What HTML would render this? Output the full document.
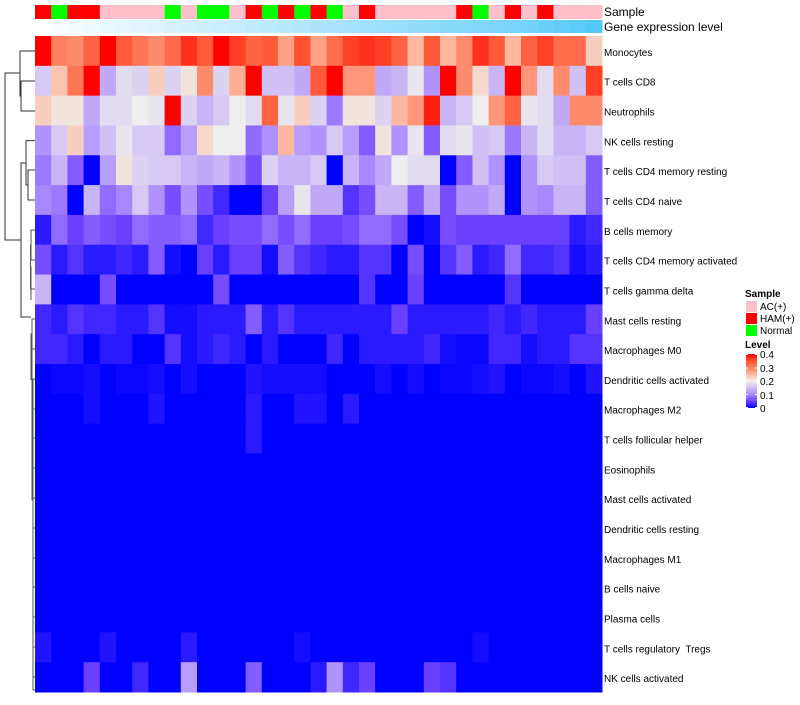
<!DOCTYPE html>
<html><head><meta charset="utf-8"><style>
body{margin:0;background:#fff;font-family:"Liberation Sans",sans-serif;}
svg text{font-family:"Liberation Sans",sans-serif;white-space:pre;}
</style></head><body>
<svg id="chart" width="800" height="700" xmlns="http://www.w3.org/2000/svg">
<g id="dendro" stroke="#333" stroke-width="1" fill="none">
<path d="M35,81H21V111H35 M35,51H20V96H21 M35,170H28V200H35 M35,140.6H26V185H28 M20,73H5V240H21 M26,163H21V317H31"/>
<path d="M35,230H31V260H35 M31,245H30.5V289H35 M30.5,267H31V300 M35,319H32V349H35 M32,334H31V380 M35,379H33V690H35 M33,500H32V334" stroke="#555"/>
<path d="M35,409H33 M35,438H33 M35,468H33 M35,498H33 M35,528H33 M35,558H33 M35,587H33 M35,617H33 M35,647H33 M35,677H33" stroke="#666"/>
</g>
<g id="cells"></g>
<g id="anno"></g>
<text x="604" y="16" font-size="12">Sample</text>
<text x="604" y="31" font-size="12">Gene expression level</text>
<g id="rowlabels" font-size="10"></g>
<g id="legend">
<text x="745" y="297" font-size="10" font-weight="bold">Sample</text>
<rect x="746" y="301" width="11" height="11" fill="#FFC0CB"/>
<text x="760" y="310" font-size="10">AC(+)</text>
<rect x="746" y="313" width="11" height="11" fill="#FF0000"/>
<text x="760" y="322" font-size="10">HAM(+)</text>
<rect x="746" y="325" width="11" height="11" fill="#00FF00"/>
<text x="760" y="334" font-size="10">Normal</text>
<text x="745" y="348" font-size="10" font-weight="bold">Level</text>
<defs><linearGradient id="lg" x1="0" y1="1" x2="0" y2="0">
<stop offset="0" stop-color="#0000FF"/><stop offset="0.125" stop-color="#6A40FF"/><stop offset="0.25" stop-color="#A888FF"/><stop offset="0.375" stop-color="#D0C0F4"/><stop offset="0.5" stop-color="#EEEEEE"/><stop offset="0.625" stop-color="#FFB8A0"/><stop offset="0.75" stop-color="#FF8060"/><stop offset="0.875" stop-color="#FF5030"/><stop offset="1" stop-color="#FF0000"/></linearGradient></defs>
<rect x="746" y="354" width="11" height="54" fill="url(#lg)"/>
<g stroke="#fff"><path d="M746,354.5h2M755,354.5h2M746,368h2M755,368h2M746,381h2M755,381h2M746,394.5h2M755,394.5h2M746,407.5h2M755,407.5h2"/></g>
<g font-size="10">
<text x="760" y="358">0.4</text><text x="760" y="372">0.3</text><text x="760" y="385">0.2</text><text x="760" y="399">0.1</text><text x="760" y="412">0</text></g>
</g>
</svg>
<script>
const rowNames=["Monocytes","T cells CD8","Neutrophils","NK cells resting","T cells CD4 memory resting","T cells CD4 naive","B cells memory","T cells CD4 memory activated","T cells gamma delta","Mast cells resting","Macrophages M0","Dendritic cells activated","Macrophages M2","T cells follicular helper","Eosinophils","Mast cells activated","Dendritic cells resting","Macrophages M1","B cells naive","Plasma cells","T cells regulatory  Tregs","NK cells activated"];
const sampleGroups=["H","N","H","H","A","A","A","A","N","A","N","N","A","H","N","H","N","H","N","A","H","A","A","A","A","A","H","N","A","H","A","H","A","A","A"];
const geneLevels=[0.0,0.03,0.06,0.09,0.12,0.15,0.17,0.2,0.22,0.25,0.27,0.3,0.32,0.35,0.37,0.4,0.42,0.45,0.47,0.5,0.52,0.55,0.57,0.6,0.62,0.65,0.67,0.7,0.72,0.75,0.78,0.82,0.86,0.9,0.95];
const rowMonocytes=[.42,.30,.29,.33,.42,.34,.31,.29,.32,.37,.34,.42,.36,.33,.34,.27,.35,.27,.32,.36,.37,.36,.33,.25,.34,.25,.29,.37,.34,.25,.33,.36,.32,.32,.23];
const rowCD8=[.16,.24,.31,.42,.13,.18,.17,.23,.17,.21,.29,.17,.26,.42,.15,.15,.13,.34,.42,.28,.28,.13,.14,.19,.11,.42,.29,.22,.14,.42,.28,.18,.29,.15,.36];
const rowNeutro=[.23,.21,.21,.13,.18,.18,.2,.19,.42,.17,.14,.16,.2,.18,.33,.19,.23,.17,.09,.21,.21,.17,.25,.28,.38,.14,.16,.2,.28,.33,.19,.18,.13,.29,.29];
const rowNKrest=[.11,.16,.23,.12,.15,.19,.16,.16,.08,.12,.22,.2,.2,.08,.11,.25,.12,.11,.16,.12,.07,.21,.11,.19,.07,.18,.19,.15,.16,.09,.14,.18,.14,.14,.16];
const rowCD4mr=[.09,.14,.07,0,.12,.21,.17,.16,.16,.14,.13,.14,.11,.06,.17,.14,.14,.16,0,.14,.1,.13,.2,.18,.18,0,.07,.15,.11,0,.11,.16,.15,.15,.07];
const rowCD4n=[.1,.09,0,.14,.08,.1,.16,.11,.06,.11,.06,.03,0,0,.05,.12,.19,.13,.13,.04,.06,.14,.14,.07,.13,.06,.11,.11,.13,0,.11,.1,.14,.14,.07];
const rowBmem=[.02,.08,.05,.07,.06,.05,.08,.07,.07,.08,.03,.05,.06,.06,.08,.06,.08,.05,.05,.06,.08,.08,.06,0,.01,.06,.05,.05,.05,.05,.05,.05,.05,.02,.03];
const rowCD4ma=[.06,.02,.04,.02,.02,.03,.02,.07,.01,0,.05,.02,.05,.05,.01,.07,.04,.03,.02,.02,.04,.04,0,.06,0,.04,.07,.02,.03,.08,.03,.03,.04,.01,.02];
const rowTgd=[.14,0,0,0,.06,0,0,0,0,0,0,.06,0,0,0,0,0,0,0,0,.04,0,0,.05,0,0,0,0,0,.04,0,0,0,0,0];
const rowMastRest=[.03,.02,.04,.03,.03,.02,.02,.04,.01,.01,.02,.02,.02,.07,.02,.04,.02,.02,.02,.02,.02,.02,.05,.02,.02,.02,.02,.02,.03,.02,.03,.02,.02,.02,.05];
const rowM0=[.03,.03,.02,0,.02,.02,0,0,.04,.01,.02,.03,.02,0,.02,0,0,0,.03,0,.02,.02,.02,.02,.03,.01,.005,.005,.03,.03,.01,.02,.02,.04,.04];
const rowDCact=[0,.005,.005,.01,0,.005,.005,.01,0,.01,0,0,0,.015,.01,.01,.01,.01,0,0,0,.01,0,.01,0,.005,.005,.01,.015,0,.005,.005,.01,0,.015];
const rowM2=[0,0,0,.01,0,0,0,.015,0,0,0,0,0,.02,0,0,.015,.015,0,.02,0,0,0,0,0,0,0,0,0,0,0,0,0,0,0];
const rowTfh=[0,0,0,0,0,0,0,0,0,0,0,0,0,.02,0,0,0,0,0,0,0,0,0,0,0,0,0,0,0,0,0,0,0,0,0];
const rowZero=[0,0,0,0,0,0,0,0,0,0,0,0,0,0,0,0,0,0,0,0,0,0,0,0,0,0,0,0,0,0,0,0,0,0,0];
const rowTreg=[.015,0,0,0,.015,0,0,0,0,.02,0,0,0,0,0,0,.01,0,0,0,0,0,0,0,0,0,0,.01,0,0,0,0,0,0,0];
const rowNKact=[0,0,0,.05,0,0,.03,0,0,.12,0,0,0,.07,0,0,0,.02,.11,.03,.05,0,0,0,.05,.04,0,0,0,0,0,0,0,0,0];
const values=[rowMonocytes,rowCD8,rowNeutro,rowNKrest,rowCD4mr,rowCD4n,rowBmem,rowCD4ma,rowTgd,rowMastRest,rowM0,rowDCact,rowM2,rowTfh,rowZero,rowZero,rowZero,rowZero,rowZero,rowZero,rowTreg,rowNKact];

const NS="http://www.w3.org/2000/svg";
const X0=35,X1=602,Y0=36,Y1=692;
const nC=35,nR=rowNames.length;
const cw=(X1-X0)/nC, rh=(Y1-Y0)/nR;
const xPos=c=>X0+c*cw, yPos=r=>Y0+r*rh;
const stops=[[0,[0,0,255]],[.05,[106,64,255]],[.1,[168,136,255]],[.15,[208,192,244]],[.2,[238,238,238]],[.25,[255,184,160]],[.3,[255,128,96]],[.35,[255,80,48]],[.4,[255,0,0]]];
function color(v){v=Math.max(0,Math.min(.4,v));
 for(let i=1;i<stops.length;i++){if(v<=stops[i][0]){const a=stops[i-1],b=stops[i],t=(v-a[0])/(b[0]-a[0]);
 const c=a[1].map((x,k)=>Math.round(x+(b[1][k]-x)*t));return `rgb(${c})`;}}return "rgb(255,0,0)";}
const cells=document.getElementById('cells');
values.forEach((row,r)=>row.forEach((v,c)=>{
 const e=document.createElementNS(NS,'rect');
 e.setAttribute('x',xPos(c));e.setAttribute('y',yPos(r));
 e.setAttribute('width',cw+0.5);e.setAttribute('height',rh+0.5);
 e.setAttribute('fill',color(v));
 
 
 cells.appendChild(e);}));
const sCol={A:"#FFC0CB",H:"#FF0000",N:"#00FF00"};
const anno=document.getElementById('anno');
sampleGroups.forEach((s,c)=>{
 const e=document.createElementNS(NS,'rect');
 e.setAttribute('x',xPos(c));e.setAttribute('y',5);e.setAttribute('width',cw+0.5);e.setAttribute('height',14);
 e.setAttribute('fill',sCol[s]);
 
 
 anno.appendChild(e);});
geneLevels.forEach((g,c)=>{
 const e=document.createElementNS(NS,'rect');
 e.setAttribute('x',xPos(c));e.setAttribute('y',20);e.setAttribute('width',cw+0.5);e.setAttribute('height',13);
 const col=[255+(75-255)*g,255+(198-255)*g,255+(248-255)*g].map(Math.round);
 e.setAttribute('fill',`rgb(${col})`);
 
 
 anno.appendChild(e);});
const rl=document.getElementById('rowlabels');
rowNames.forEach((n,r)=>{
 const t=document.createElementNS(NS,'text');
 t.setAttribute('x',604);t.setAttribute('y',yPos(r)+rh/2+5);t.textContent=n;
 
 
 rl.appendChild(t);});
</script>
</body></html>
